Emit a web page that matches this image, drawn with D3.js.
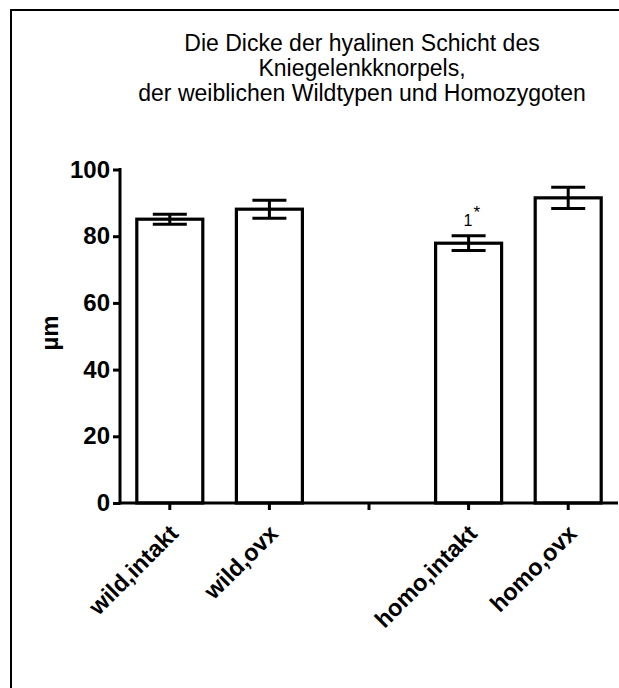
<!DOCTYPE html>
<html>
<head>
<meta charset="utf-8">
<script src="https://cdn.jsdelivr.net/npm/d3@7"></script>
<style>
  body { margin: 0; background: #fff; }
  svg { display: block; font-family: Arial, "Liberation Sans", sans-serif; }
</style>
</head>
<body>
<svg id="chart" width="619" height="688"></svg>
<script>
// data
const categories = ['wild,intakt', 'wild,ovx', '', 'homo,intakt', 'homo,ovx'];
const means = [85.1, 88.1, null, 77.9, 91.5];
const sems = [1.5, 2.7, null, 2.2, 3.2];
const yTicks = [0, 20, 40, 60, 80, 100];
const titleLines = [
  'Die Dicke der hyalinen Schicht des',
  'Kniegelenkknorpels,',
  'der weiblichen Wildtypen und Homozygoten'
];

const svg = d3.select('#chart');

// frame (only top and left edges visible in the crop)
svg.append('path')
    .attr('d', 'M11,688 L11,10 L619,10')
    .attr('fill', 'none')
    .attr('stroke', '#000')
    .attr('stroke-width', 2);

// band centres at 120 + 99.6*(i+0.5)
const x = d3.scaleBand()
    .domain(categories.map((c, i) => i))
    .range([120, 618])
    .padding(0);
const bw = 66;

const y = d3.scaleLinear().domain([0, 100]).range([503, 169.5]);

// title
svg.append('text')
    .attr('text-anchor', 'middle')
    .attr('font-size', 23)
    .selectAll('tspan')
    .data(titleLines)
  .join('tspan')
    .attr('x', 362)
    .attr('y', (d, i) => 51 + i * 25)
    .text(d => d);

// bars
const rows = categories.map((c, i) => ({ i, c, m: means[i], s: sems[i] })).filter(d => d.m != null);

svg.selectAll('.bar')
    .data(rows)
  .join('rect')
    .attr('class', 'bar')
    .attr('x', d => x(d.i) + x.bandwidth() / 2 - bw / 2)
    .attr('width', bw)
    .attr('y', d => y(d.m))
    .attr('height', d => y(0) - y(d.m))
    .attr('fill', '#fff')
    .attr('stroke', '#000')
    .attr('stroke-width', 3.2);

// error bars
const eb = svg.selectAll('.err')
    .data(rows)
  .join('g')
    .attr('class', 'err')
    .attr('stroke', '#000')
    .attr('stroke-width', 3);
eb.append('line')
    .attr('x1', d => x(d.i) + x.bandwidth() / 2)
    .attr('x2', d => x(d.i) + x.bandwidth() / 2)
    .attr('y1', d => y(d.m + d.s))
    .attr('y2', d => y(d.m - d.s));
eb.selectAll('.cap')
    .data(d => [d.m + d.s, d.m - d.s].map(v => ({ i: d.i, v })))
  .join('line')
    .attr('x1', d => x(d.i) + x.bandwidth() / 2 - 17)
    .attr('x2', d => x(d.i) + x.bandwidth() / 2 + 17)
    .attr('y1', d => y(d.v))
    .attr('y2', d => y(d.v));

// significance mark on homo,intakt
const hi = rows.find(d => d.c === 'homo,intakt');
const sig = svg.append('text')
    .attr('x', x(hi.i) + x.bandwidth() / 2 - 5)
    .attr('y', y(hi.m + hi.s) - 10)
    .attr('font-size', 16);
sig.append('tspan').text('1');
sig.append('tspan').attr('dx', 1).attr('dy', -8).attr('font-size', 17).text('*');

// y axis
const yAxis = svg.append('g')
    .attr('transform', 'translate(120,0)')
    .call(d3.axisLeft(y).tickValues(yTicks).tickSize(7).tickPadding(3).tickSizeOuter(0));
yAxis.select('.domain').attr('stroke-width', 3).attr('d', `M0,${y(0) + 1.5}V${y(100) - 1.5}`);
yAxis.selectAll('.tick line').attr('stroke-width', 3);
yAxis.selectAll('.tick text')
    .attr('font-size', 24)
    .attr('font-weight', 'bold')
    .attr('font-family', 'Arial, "Liberation Sans", sans-serif')
    .attr('fill', '#000');

svg.append('text')
    .attr('transform', 'translate(58,333) rotate(-90)')
    .attr('text-anchor', 'middle')
    .attr('font-size', 24)
    .attr('font-weight', 'bold')
    .text('µm');

// x axis
const xAxis = svg.append('g')
    .attr('transform', `translate(0,${y(0)})`)
    .call(d3.axisBottom(x).tickFormat(i => categories[i]).tickSize(7).tickSizeOuter(0));
xAxis.select('.domain').attr('stroke-width', 3).attr('d', 'M118.5,0H618');
xAxis.selectAll('.tick line').attr('stroke-width', 3);
xAxis.selectAll('.tick text')
    .attr('font-size', 23.5)
    .attr('font-weight', 'bold')
    .attr('font-family', 'Arial, "Liberation Sans", sans-serif')
    .attr('fill', '#000')
    .attr('text-anchor', 'end')
    .attr('dy', 0)
    .attr('y', 0)
    .attr('transform', 'translate(10,32) rotate(-45)');
</script>
</body>
</html>
